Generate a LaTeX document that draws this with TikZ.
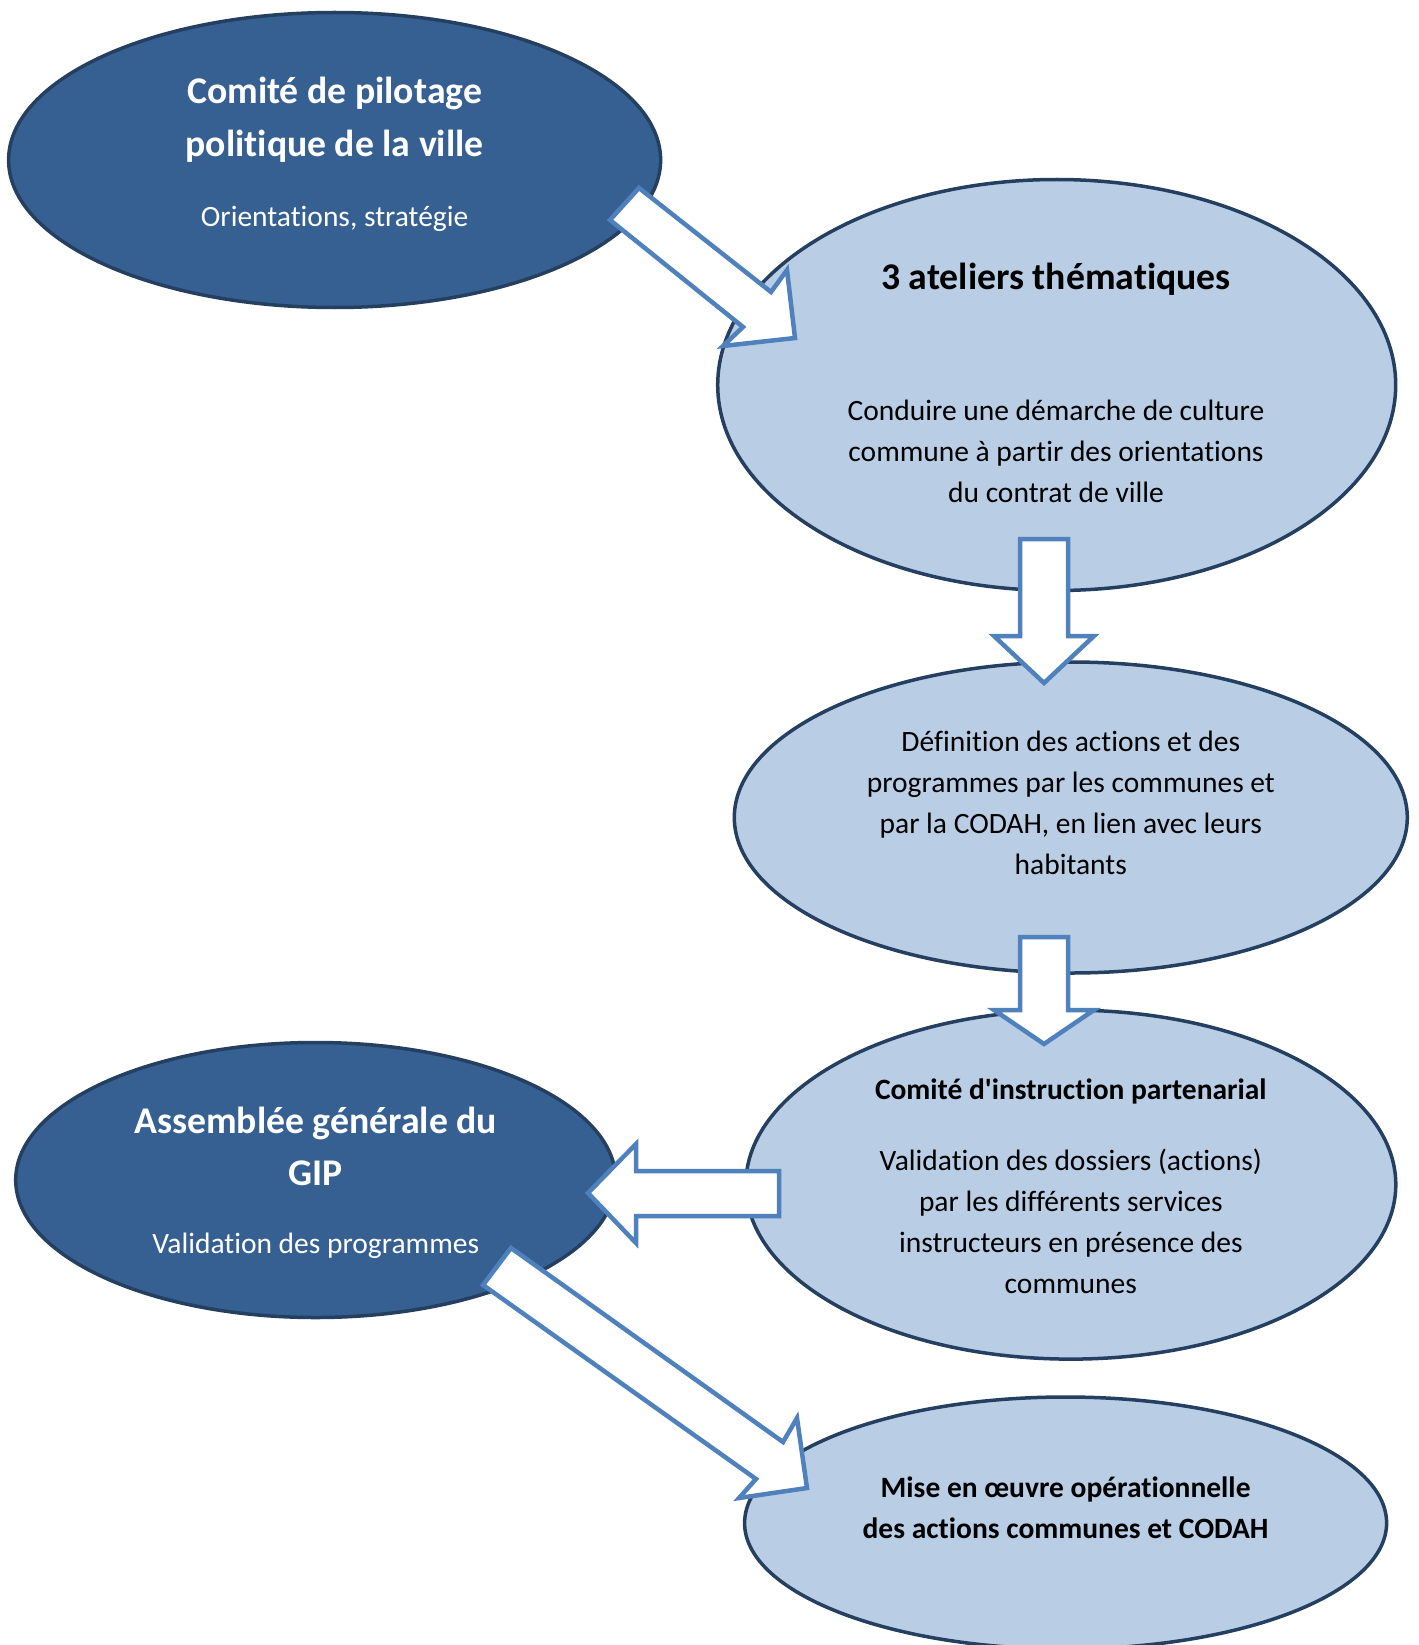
\documentclass[tikz,border=0pt]{standalone}
\usepackage{fontspec}
\setmainfont{Carlito}[Ligatures=NoCommon]
\newfontfamily\plainfont{Carlito}[Ligatures=NoCommon]
\usetikzlibrary{shapes.geometric}

\definecolor{darkfill}{HTML}{376092}
\definecolor{lightfill}{HTML}{B9CDE5}
\definecolor{ellline}{HTML}{243F60}
\definecolor{arrline}{HTML}{4F81BD}

\tikzset{
	ellbox/.style={ellipse, draw=ellline, line width=3.5pt, inner sep=0pt},
	darkell/.style={ellbox, fill=darkfill},
	lightell/.style={ellbox, fill=lightfill},
	blockarrow/.style={draw=arrline, fill=white, line width=4.5pt, line join=miter},
	bigtitle/.style={align=center, text=white, font=\bfseries\fontsize{37.7}{52.5}\selectfont},
	bodytxt/.style={align=center, font=\fontsize{29.5}{41}\selectfont},
	boldtxt/.style={align=center, font=\bfseries\fontsize{29.5}{41}\selectfont}}

\begin{document}
\begin{tikzpicture}[x=1pt,y=-1pt]
	\useasboundingbox (0,0) rectangle (1418,1645);

	%Shape: Ellipse [pilotage]
	\node[darkell, minimum width=652pt, minimum height=295pt] (pilotage) at (334.6,160) {};
	%Shape: Ellipse [ateliers]
	\node[lightell, minimum width=678pt, minimum height=411pt] (ateliers) at (1056.7,385) {};
	%Shape: Ellipse [definition]
	\node[lightell, minimum width=673pt, minimum height=311pt] (definition) at (1070.8,817.5) {};
	%Shape: Ellipse [instruction]
	\node[lightell, minimum width=650pt, minimum height=349pt] (instruction) at (1070.8,1184.6) {};
	%Shape: Ellipse [assemblee]
	\node[darkell, minimum width=600pt, minimum height=275pt] (assemblee) at (315.7,1180) {};
	%Shape: Ellipse [miseenoeuvre]
	\node[lightell, minimum width=642pt, minimum height=252pt] (miseenoeuvre) at (1065.6,1523) {};

	% Text Node
	\node[bigtitle] (pilotage-titre) at (334.6,119.5) {Comité de pilotage\\politique de la ville};
	% Text Node
	\node[bodytxt, text=white] (pilotage-sous) at (334.6,219.2) {Orientations, stratégie};
	% Text Node
	\node[bigtitle, text=black] (ateliers-titre) at (1056,279) {3 ateliers thématiques};
	% Text Node
	\node[bodytxt] (ateliers-sous) at (1056,451) {Conduire une démarche de culture\\commune à partir des orientations\\du contrat de ville};
	% Text Node
	\node[bodytxt] (definition-txt) at (1070.8,802.4) {Définition des actions et des\\programmes par les communes et\\par la CODAH, en lien avec leurs\\habitants};
	% Text Node
	\node[boldtxt] (instruction-titre) at (1070.8,1091.8) {Comité d{\plainfont'}instruction partenarial};
	% Text Node
	\node[bodytxt] (instruction-sous) at (1070.8,1221) {Validation des dossiers (actions)\\par les différents services\\instructeurs en présence des\\communes};
	% Text Node
	\node[bigtitle] (assemblee-titre) at (315.7,1146.3) {Assemblée générale du\\GIP};
	% Text Node
	\node[bodytxt, text=white] (assemblee-sous) at (315.7,1246) {Validation des programmes};
	% Text Node
	\node[boldtxt] (miseenoeuvre-txt) at (1065.6,1507.5) {Mise en œuvre opérationnelle\\des actions communes et CODAH};

	%Shape: Right Arrow [pilotage -> ateliers]
	\draw[blockarrow] (610,220) -- (743,327) -- (723,346) -- (795,338) -- (787,270) -- (771,292) -- (639,188) -- cycle;
	%Shape: Down Arrow [ateliers -> definition]
	\draw[blockarrow] (1020,539) -- (1068,539) -- (1068,636) -- (1094,636) -- (1044,683) -- (994,636) -- (1020,636) -- cycle;
	%Shape: Down Arrow [definition -> instruction]
	\draw[blockarrow] (1020,937) -- (1068,937) -- (1068,1010) -- (1094,1010) -- (1044,1044) -- (994,1010) -- (1020,1010) -- cycle;
	%Shape: Left Arrow [instruction -> assemblee]
	\draw[blockarrow] (779,1171) -- (636,1171) -- (636,1144) -- (588,1193) -- (636,1243) -- (636,1216) -- (779,1216) -- cycle;
	%Shape: Right Arrow [assemblee -> miseenoeuvre]
	\draw[blockarrow] (483,1285) -- (511,1248) -- (783,1442) -- (797,1418) -- (807,1488) -- (739,1498) -- (756,1479) -- cycle;

\end{tikzpicture}
\end{document}
